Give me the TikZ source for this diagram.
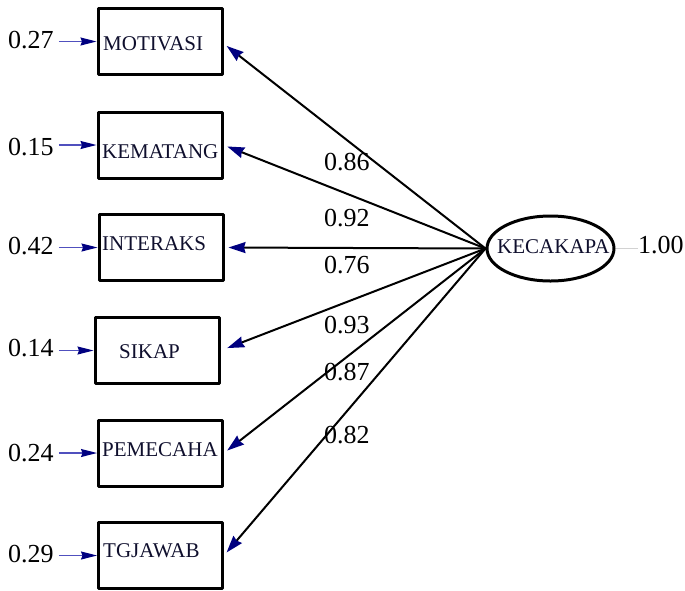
\documentclass[tikz,border=0pt]{standalone}
\usepackage{fontspec}
\setmainfont{Liberation Serif}
\usetikzlibrary{shapes.geometric, arrows.meta, positioning, calc}
\definecolor{tipnavy}{RGB}{0,0,128}
\definecolor{errline}{RGB}{80,80,190}
\definecolor{lblnavy}{RGB}{15,15,45}

\begin{document}
\begin{tikzpicture}[x=1pt, y=-1pt, line join=round,
    obs/.style={draw, line width=3pt, minimum width=124pt, minimum height=66pt, inner sep=0pt},
    lat/.style={draw, ellipse, line width=3pt, minimum width=127pt, minimum height=65pt, inner sep=0pt},
    lbl/.style={anchor=base west, inner sep=0pt, text=lblnavy, font=\fontsize{21}{21}\selectfont},
    num/.style={anchor=base west, inner sep=2pt, font=\fontsize{26}{26}\selectfont},
    navytip/.tip={Stealth[length=17pt, width=11pt, inset=1.5pt, tipnavy]},
    errtip/.tip={Stealth[length=16pt, width=8pt, inset=1.5pt, tipnavy]},
    load/.style={line width=2pt, -navytip, shorten >=4pt},
    err/.style={line width=1.2pt, errline, -errtip, shorten <=3pt}]
    \useasboundingbox (0,0) rectangle (685,590);

    \node[obs] (mot) at (160,41.5) {};
    \node[obs] (kem) at (160,145) {};
    \node[obs] (int) at (161,247.5) {};
    \node[obs] (sik) at (157,350.5) {};
    \node[obs] (pem) at (160.5,453) {};
    \node[obs] (tgj) at (160.5,555.5) {};

    \node[lbl] (tmot) at (103,50) {MOTIVASI};
    \node[lbl] (tkem) at (102,158) {KEMATANG};
    \node[lbl] (tint) at (102,250) {INTERAKS};
    \node[lbl] (tsik) at (119,358) {SIKAP};
    \node[lbl] (tpem) at (102,456) {PEMECAHA};
    \node[lbl] (ttgj) at (103,557) {TGJAWAB};

    \node[lat] (kec) at (550.5,248.5) {};
    \node[lbl] (tkec) at (497,253) {KECAKAPA};
    \node[num, inner sep=0pt] (vkec) at (638,253) {1.00};
    \draw[gray!35, line width=1pt] (kec.east) -- (vkec.west |- kec.east);

    \node[num] (emot) at (6,48) {0.27};
    \node[num] (ekem) at (6,155) {0.15};
    \node[num] (eint) at (6,254) {0.42};
    \node[num] (esik) at (6,356) {0.14};
    \node[num] (epem) at (6,461) {0.24};
    \node[num] (etgj) at (6,562) {0.29};

    \draw[err] (emot.east |- mot.west) -- (mot.west);
    \draw[err] (ekem.east |- kem.west) -- (kem.west);
    \draw[err] (eint.east |- int.west) -- (int.west);
    \draw[err] (esik.east |- sik.west) -- (sik.west);
    \draw[err] (epem.east |- pem.west) -- (pem.west);
    \draw[err] (etgj.east |- tgj.west) -- (tgj.west);

    \draw[load] (kec.west) -- ($(mot.east)+(0,2)$);
    \draw[load] (kec.west) -- (kem.east);
    \draw[load] (kec.west) -- (int.east);
    \draw[load] (kec.west) -- ($(sik.east)+(3,-1)$);
    \draw[load] (kec.west) -- (pem.east);
    \draw[load] (kec.west) -- (tgj.east);

    \node[num, inner sep=0pt] (lmot) at (324,170) {0.86};
    \node[num, inner sep=0pt] (lkem) at (324,226) {0.92};
    \node[num, inner sep=0pt] (lint) at (324,273) {0.76};
    \node[num, inner sep=0pt] (lsik) at (324,333) {0.93};
    \node[num, inner sep=0pt] (lpem) at (324,380) {0.87};
    \node[num, inner sep=0pt] (ltgj) at (324,443) {0.82};
\end{tikzpicture}
\end{document}
